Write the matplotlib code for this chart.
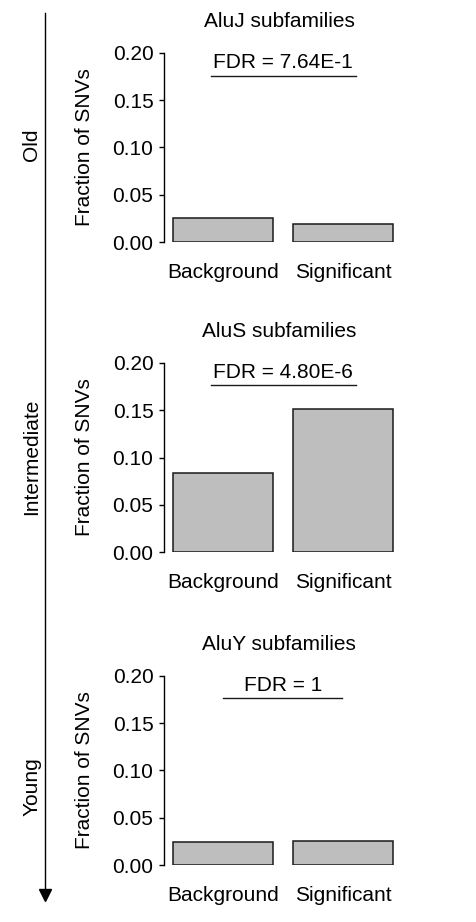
import numpy as np
import matplotlib
matplotlib.use('Agg')
import matplotlib.pyplot as plt

plt.rcParams['font.family'] = ['Liberation Sans', 'DejaVu Sans']
plt.rcParams['font.size'] = 15

# Data
groups = ['Background', 'Significant']
titles = ['AluJ subfamilies', 'AluS subfamilies', 'AluY subfamilies']
fdr_labels = ['FDR = 7.64E-1', 'FDR = 4.80E-6', 'FDR = 1']
fractions = [
    [0.0254, 0.0194],
    [0.0833, 0.1510],
    [0.0240, 0.0250],
]
ages = ['Old', 'Intermediate', 'Young']
yticks = [0.00, 0.05, 0.10, 0.15, 0.20]

W, H = 476, 922
fig = plt.figure(figsize=(W / 100, H / 100), dpi=100)

# panel layout in pixels: (top, bottom)
panel_px = [(53, 242), (362.7, 552.3), (675.7, 865)]
underline_x = [(0.58, 2.03), (0.58, 2.03), (0.70, 1.89)]
age_y = [145, 457, 787]

centers = np.array([0.7, 1.9])  # R barplot style: width 1, space 0.2

for i, (top, bot) in enumerate(panel_px):
    ax = fig.add_axes([164 / W, 1 - bot / H, 238 / W, (bot - top) / H])
    ax.bar(centers, fractions[i], width=1.0, color='#bebebe',
           edgecolor='#1a1a1a', linewidth=1.1)
    ax.set_xlim(0.11, 2.49)
    ax.set_ylim(0, 0.2)
    for s in ['top', 'right', 'bottom']:
        ax.spines[s].set_visible(False)
    ax.spines['left'].set_linewidth(1.0)
    ax.set_yticks(yticks)
    ax.set_yticklabels(['%.2f' % v for v in yticks])
    ax.tick_params(axis='y', direction='out', length=3.6, width=1.0, pad=4,
                   labelsize=15)
    ax.set_xticks(centers)
    ax.set_xticklabels(groups)
    ax.tick_params(axis='x', length=0, pad=15, labelsize=15)

    ax.text(1.26, 0.2272, titles[i], ha='center', va='baseline',
            fontsize=15, clip_on=False)
    ax.text(1.3, 0.184, fdr_labels[i], ha='center', va='baseline', fontsize=15)
    ax.plot(underline_x[i], [0.176, 0.176], color='#1a1a1a', lw=1.0)

    fig.text(84 / W, 1 - (top + bot) / 2 / H, 'Fraction of SNVs', rotation=90,
             ha='center', va='center', fontsize=15)
    fig.text(32 / W, 1 - age_y[i] / H, ages[i], rotation=90,
             ha='center', va='center', fontsize=15)

# age arrow on the left
ov = fig.add_axes([0, 0, 1, 1])
ov.set_xlim(0, W)
ov.set_ylim(H, 0)
ov.axis('off')
ov.plot([45, 45], [12.7, 892], color='black', lw=1.0)
ov.plot([45], [895.2], marker='v', markersize=8.3, color='black')

fig.savefig('out.png', dpi=100)
